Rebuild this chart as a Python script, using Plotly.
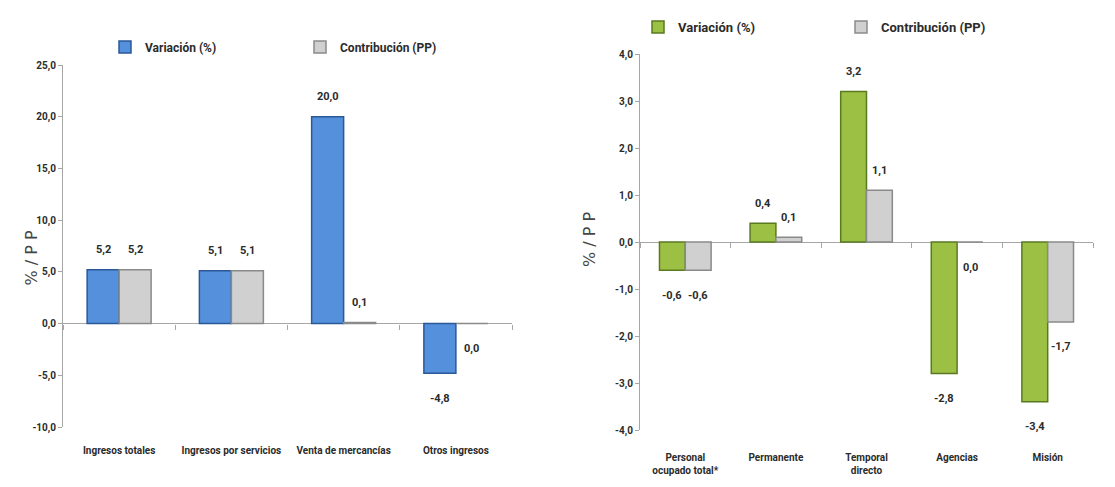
import plotly.graph_objects as go

# ---- data ----
cats_left = ["Ingresos totales", "Ingresos por servicios", "Venta de mercancías", "Otros ingresos"]
var_left = [5.2, 5.1, 20.0, -4.8]
contrib_left = [5.2, 5.1, 0.1, 0.0]

cats_right = ["Personal<br>ocupado total*", "Permanente", "Temporal<br>directo", "Agencias", "Misión"]
var_right = [-0.6, 0.4, 3.2, -2.8, -3.4]
contrib_right = [-0.6, 0.1, 1.1, 0.0, -1.7]

left_ticks = [-10, -5, 0, 5, 10, 15, 20, 25]
right_ticks = [-4, -3, -2, -1, 0, 1, 2, 3, 4]

W, H = 1115, 487
OFF = 8  # page body margin: figure origin sits 8px into the window
FONT = "Roboto, Liberation Sans, sans-serif"
TXT = "#2b2b2b"

BLUE, BLUE_EDGE = "#5590dc", "#2b5898"
GREY, GREY_EDGE = "#d0d0d0", "#8a8a8a"
GREEN, GREEN_EDGE = "#9cc044", "#5a7a20"

# plot areas in window pixels
L = dict(x0=63, x1=512, y0=65, y1=427)
R = dict(x0=640, x1=1093, y0=54, y1=430)
BARGAP = 0.43

def fmt(v):
    return f"{v:.1f}".replace(".", ",")

def px2x(px):
    return (px - OFF) / W

def px2y(py):
    return 1 - (py - OFF) / H

def zero_pos(box, lo, hi):
    py = box["y0"] + (hi - 0) / (hi - lo) * (box["y1"] - box["y0"])
    return px2y(py)

fig = go.Figure()

fig.add_trace(go.Bar(x=cats_left, y=var_left, name="Variación (%)", xaxis="x", yaxis="y",
                     marker=dict(color=BLUE, line=dict(color=BLUE_EDGE, width=1.5)),
                     legend="legend", hoverinfo="skip"))
fig.add_trace(go.Bar(x=cats_left, y=contrib_left, name="Contribución (PP)", xaxis="x", yaxis="y",
                     marker=dict(color=GREY, line=dict(color=GREY_EDGE, width=1.5)),
                     legend="legend", hoverinfo="skip"))
fig.add_trace(go.Bar(x=cats_right, y=var_right, name="Variación (%)", xaxis="x2", yaxis="y2",
                     marker=dict(color=GREEN, line=dict(color=GREEN_EDGE, width=1.5)),
                     legend="legend2", hoverinfo="skip"))
fig.add_trace(go.Bar(x=cats_right, y=contrib_right, name="Contribución (PP)", xaxis="x2", yaxis="y2",
                     marker=dict(color=GREY, line=dict(color=GREY_EDGE, width=1.5)),
                     legend="legend2", hoverinfo="skip"))

LABEL_FONT = dict(family=FONT, size=11, color=TXT, weight="bold")
TICK_FONT = dict(family=FONT, size=10, color=TXT, weight="bold")

# data labels as annotations through the axes' scales
annotations = []
def add_labels(cats, vals, box, side, xref, yref):
    n = len(cats)
    catw = (box["x1"] - box["x0"]) / n
    barw = catw * (1 - BARGAP) / 2
    shift = side * barw / 2
    for c, v in zip(cats, vals):
        below = v <= 0
        annotations.append(dict(x=c, y=v, xref=xref, yref=yref, text=fmt(v), showarrow=False,
                                xshift=shift, yshift=(-25 if below else 20),
                                font=LABEL_FONT))

add_labels(cats_left, var_left, L, -1, "x", "y")
add_labels(cats_left, contrib_left, L, 1, "x", "y")
add_labels(cats_right, var_right, R, -1, "x2", "y2")
add_labels(cats_right, contrib_right, R, 1, "x2", "y2")

# y axis titles
TITLE_FONT = dict(family="DejaVu Sans", size=16, color="#444444")
annotations.append(dict(x=px2x(20), y=px2y(258), xref="paper", yref="paper", text="% / P P",
                        textangle=-90, showarrow=False, font=TITLE_FONT))
annotations.append(dict(x=px2x(589), y=px2y(239), xref="paper", yref="paper", text="% / P P",
                        textangle=-90, showarrow=False, font=TITLE_FONT))

AX = "#a6a6a6"

fig.update_layout(
    width=W, height=H,
    margin=dict(l=0, r=0, t=0, b=0, autoexpand=False),
    paper_bgcolor="white", plot_bgcolor="white",
    separators=",.",
    barmode="group", bargap=BARGAP, bargroupgap=0.0,
    showlegend=True,
    xaxis=dict(domain=[px2x(L["x0"]), px2x(L["x1"])], anchor="y", showline=False, ticks="",
               ticklabelstandoff=16, showgrid=False, tickfont=TICK_FONT),
    yaxis=dict(domain=[px2y(L["y1"]), px2y(L["y0"])], anchor="x", range=[-10, 25],
               tickvals=left_ticks, ticktext=[fmt(t) for t in left_ticks],
               showline=True, linecolor=AX, ticks="outside", ticklen=4, tickcolor=AX,
               showgrid=False, tickfont=TICK_FONT,
               zeroline=True, zerolinecolor=AX, zerolinewidth=1),
    xaxis3=dict(overlaying="x", matches="x", anchor="free", position=zero_pos(L, -10, 25),
                tickson="boundaries", ticks="outside", ticklen=5, tickcolor=AX,
                showticklabels=False, showline=False, showgrid=False),
    xaxis2=dict(domain=[px2x(R["x0"]), px2x(R["x1"])], anchor="y2", showline=False, ticks="",
                ticklabelstandoff=20, showgrid=False, tickfont=TICK_FONT),
    yaxis2=dict(domain=[px2y(R["y1"]), px2y(R["y0"])], anchor="x2", range=[-4, 4],
                tickvals=right_ticks, ticktext=[fmt(t) for t in right_ticks],
                showline=True, linecolor=AX, ticks="outside", ticklen=4, tickcolor=AX,
                showgrid=False, tickfont=TICK_FONT,
                zeroline=True, zerolinecolor=AX, zerolinewidth=1),
    xaxis4=dict(overlaying="x2", matches="x2", anchor="free", position=zero_pos(R, -4, 4),
                tickson="boundaries", ticks="outside", ticklen=5, tickcolor=AX,
                showticklabels=False, showline=False, showgrid=False),
    legend=dict(orientation="h", x=px2x(105), y=px2y(47), xanchor="left", yanchor="middle",
                entrywidth=150, entrywidthmode="pixels", itemwidth=30,
                font=dict(family=FONT, size=12, color=TXT, weight="bold"),
                bgcolor="rgba(0,0,0,0)"),
    legend2=dict(orientation="h", x=px2x(638), y=px2y(27), xanchor="left", yanchor="middle",
                 entrywidth=158, entrywidthmode="pixels", itemwidth=30,
                 font=dict(family=FONT, size=13, color=TXT, weight="bold"),
                 bgcolor="rgba(0,0,0,0)"),
    annotations=annotations,
)

# invisible traces to anchor overlay axes
fig.add_trace(go.Bar(x=cats_left, y=[None] * len(cats_left), xaxis="x3", yaxis="y",
                     showlegend=False, hoverinfo="skip"))
fig.add_trace(go.Bar(x=cats_right, y=[None] * len(cats_right), xaxis="x4", yaxis="y2",
                     showlegend=False, hoverinfo="skip"))

fig.write_html("out.html")
